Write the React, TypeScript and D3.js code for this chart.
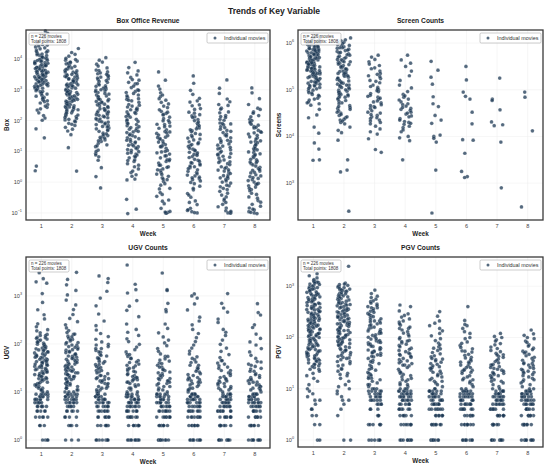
import React from "react";
import * as d3 from "d3";

const weeks = [1, 2, 3, 4, 5, 6, 7, 8];
const nMovies = 226;
const totalPoints = 1808;

// log10 of weekly box office revenue, one list per week
const boxLog10: number[][] = [
  [4.91,4.62,4.83,4.47,4.75,4.33,4.58,4.12,4.69,4.26,4.04,4.39,3.97,4.18,3.88,4.51,3.81,4.07,3.74,4.22,3.66,3.93,3.58,4.14,3.71,3.49,3.85,3.43,3.99,3.62,3.36,3.77,3.29,3.54,3.91,3.21,3.46,3.68,3.13,3.4,3.05,3.57,2.97,3.32,3.83,2.88,3.25,3.64,2.79,3.17,3.5,2.7,3.09,3.38,2.61,3.02,4.29,2.52,3.72,2.94,2.43,3.44,2.34,3.6,2.86,2.25,3.31,2.16,3.95,2.75,2.08,3.52,2.01,3.19,4.42,2.66,3.86,3.11,4.03,1.73,1.44,0.52,0.37,3.27,3.79,
   4.45,4.36,4.24,4.16,4.11,4.06,4.01,3.96,3.92,3.87,3.82,3.78,3.73,3.69,3.63,3.59,3.55,3.51,3.47,3.42,3.39,3.34,3.3,3.26,3.23,3.18,3.14,3.1,3.06,3.0,2.95,2.9,2.82,2.73,2.64,2.57,2.47,2.38,4.55,4.68],
  [4.34,4.21,3.96,4.09,3.71,3.88,3.52,3.79,3.44,3.63,3.31,3.57,3.18,3.49,3.06,3.38,2.94,3.27,2.83,3.14,2.71,3.02,2.6,2.91,2.48,2.79,2.37,2.66,2.25,2.54,2.13,2.42,2.02,2.31,1.91,2.19,1.78,2.07,1.66,1.54,3.93,3.68,3.41,3.22,2.98,2.87,2.74,2.58,3.84,3.55,3.33,3.11,2.89,2.69,2.46,2.28,3.74,3.47,3.24,3.09,2.96,2.77,2.52,2.35,4.02,3.61,3.36,3.16,2.85,2.63,2.44,2.16,1.96,1.84,1.12,0.36,3.29,2.55,3.45,2.92,
   3.98,3.86,3.76,3.66,3.58,3.5,3.42,3.35,3.28,3.2,3.13,3.05,2.99,2.93,2.86,2.8,2.72,2.67,2.61,2.56,2.5,2.43,2.38,2.32,2.24,2.18,2.1,2.04,1.98,1.88,3.9,3.15,2.62,4.15,1.72],
  [4.04,3.96,3.83,3.71,3.9,3.58,3.47,3.64,3.36,3.52,3.24,3.41,3.13,3.3,3.02,3.19,2.91,3.08,2.8,2.97,2.69,2.86,2.58,2.75,2.47,2.64,2.36,2.53,2.25,2.42,2.14,2.31,2.03,2.2,1.92,2.09,1.81,1.98,1.7,1.87,1.59,1.76,1.48,1.65,1.37,1.54,1.26,1.43,1.15,1.32,1.04,0.93,0.82,0.71,3.77,3.33,2.88,2.51,2.17,1.84,1.51,1.21,3.55,3.11,2.72,2.39,2.06,1.73,1.4,3.44,2.99,2.6,2.28,1.95,0.47,0.18,-0.19,2.68,
   3.5,3.38,3.27,3.16,3.05,2.94,2.83,2.78,2.7,2.62,2.55,2.45,2.38,2.33,2.26,2.19,2.12,2.05,1.96,1.89,1.79,1.68,1.57,1.45,1.34,1.18,1.0,0.88,3.62,3.0],
  [3.89,3.72,3.61,3.48,3.55,3.31,3.19,3.4,3.07,3.24,2.95,3.12,2.83,3.0,2.71,2.88,2.59,2.76,2.47,2.64,2.35,2.52,2.23,2.4,2.11,2.28,1.99,2.16,1.87,2.04,1.75,1.92,1.63,1.8,1.51,1.68,1.39,1.56,1.27,1.44,1.15,1.32,1.03,1.2,0.91,1.08,0.79,0.96,0.67,0.84,0.55,0.72,0.43,0.31,0.19,0.07,2.91,2.44,1.97,1.61,1.22,0.88,2.69,2.21,1.83,1.47,1.11,0.6,2.33,1.72,1.36,0.99,-0.56,-0.88,-1.02,
   2.98,2.8,2.66,2.5,2.37,2.26,2.13,2.02,1.9,1.77,1.65,1.53,1.41,1.3,1.18,1.06,0.94,0.82,0.7,0.5,0.36,0.24,0.1,3.2,3.33],
  [3.58,3.31,3.12,3.02,2.9,2.78,2.66,2.83,2.54,2.71,2.42,2.59,2.3,2.47,2.18,2.35,2.06,2.23,1.94,2.11,1.82,1.99,1.7,1.87,1.58,1.75,1.46,1.63,1.34,1.51,1.22,1.39,1.1,1.27,0.98,1.15,0.86,1.03,0.74,0.91,0.62,0.79,0.5,0.67,0.38,0.55,0.26,0.43,0.14,0.31,0.02,0.19,-0.1,-0.22,-0.34,-0.46,-0.58,-0.7,1.88,1.41,0.95,0.48,1.64,1.18,0.72,0.08,-0.98,-1.0,-1.01,-0.97,2.27,1.53,
   2.2,2.0,1.8,1.6,1.45,1.3,1.15,1.0,0.85,0.7,0.55,0.4,0.25,0.1,-0.05,-0.2,-0.4,-0.62,-0.85,-0.95],
  [3.45,3.21,2.98,2.85,2.64,2.72,2.51,2.6,2.39,2.48,2.27,2.36,2.15,2.24,2.03,2.12,1.91,2.0,1.79,1.88,1.67,1.76,1.55,1.64,1.43,1.52,1.31,1.4,1.19,1.28,1.07,1.16,0.95,1.04,0.83,0.92,0.71,0.8,0.59,0.68,0.47,0.56,0.35,0.44,0.23,0.32,0.11,0.2,-0.01,0.08,-0.13,-0.25,-0.37,-0.49,-0.61,-0.73,-0.85,1.7,1.25,0.9,0.5,1.47,1.02,0.62,-0.05,-0.96,-1.0,-0.99,-0.92,2.19,1.83,0.14,
   2.1,1.95,1.73,1.58,1.37,1.22,1.1,0.97,0.87,0.74,0.63,0.52,0.4,0.27,0.16,0.04,-0.2,-0.42,-0.66,-0.9],
  [3.32,3.05,2.88,2.7,2.52,2.61,2.4,2.49,2.28,2.37,2.16,2.25,2.04,2.13,1.92,2.01,1.8,1.89,1.68,1.77,1.56,1.65,1.44,1.53,1.32,1.41,1.2,1.29,1.08,1.17,0.96,1.05,0.84,0.93,0.72,0.81,0.6,0.69,0.48,0.57,0.36,0.45,0.24,0.33,0.12,0.21,0.0,0.09,-0.12,-0.03,-0.24,-0.15,-0.36,-0.48,-0.6,-0.72,-0.84,-0.93,-0.98,-1.0,-1.01,1.61,1.13,0.66,0.17,-0.42,1.86,1.36,0.88,0.39,-0.2,-0.66,
   2.1,1.9,1.72,1.5,1.34,1.24,1.1,1.0,0.9,0.78,0.64,0.5,0.4,0.28,0.14,0.04,-0.1,-0.3,-0.55,-0.8,-0.95],
  [3.06,2.9,2.71,2.52,2.4,2.28,2.36,2.16,2.24,2.04,2.12,1.92,2.0,1.8,1.88,1.68,1.76,1.56,1.64,1.44,1.52,1.32,1.4,1.2,1.28,1.08,1.16,0.96,1.04,0.84,0.92,0.72,0.8,0.6,0.68,0.48,0.56,0.36,0.44,0.24,0.32,0.12,0.2,0.0,0.08,-0.12,-0.04,-0.24,-0.16,-0.36,-0.28,-0.48,-0.6,-0.72,-0.84,-0.9,-0.96,-1.0,-1.02,1.6,1.1,0.63,0.15,-0.52,1.85,1.34,0.86,0.38,-0.08,-0.78,
   1.95,1.78,1.62,1.47,1.3,1.22,1.05,0.98,0.89,0.74,0.65,0.52,0.41,0.3,0.18,0.05,-0.06,-0.2,-0.4,-0.65,-0.88,-0.98],
];

// log10 of weekly screen counts
const screensLog10: number[][] = [
  [6.17,6.12,6.08,6.15,6.03,6.1,5.98,6.06,5.94,6.01,5.9,5.97,5.86,5.93,5.82,5.89,5.78,5.85,5.74,5.81,5.7,5.77,5.66,5.73,5.62,5.69,5.58,5.65,5.54,5.61,5.5,5.57,5.46,5.53,5.42,5.49,5.38,5.45,5.34,5.41,5.3,5.37,5.26,5.33,5.22,5.29,5.18,5.25,5.14,5.21,5.1,5.17,5.06,5.13,5.02,5.09,4.98,5.05,4.94,4.9,4.86,4.82,4.78,4.74,4.7,4.67,6.0,5.95,5.88,5.8,5.72,5.64,5.56,5.48,5.4,5.32,5.24,6.04,5.91,5.79,5.67,5.55,5.43,5.31,5.19,4.58,4.46,4.4,4.2,4.07,3.86,3.73,3.5,3.49,
   6.14,6.09,6.05,6.02,5.99,5.96,5.92,5.89,5.87,5.84,5.83,5.79,5.76,5.75,5.71,5.68,5.66,5.63,5.6,5.59,5.55,5.52,5.51,5.47,5.44,5.41,5.39,5.35,5.33,5.28,5.27,5.23,5.2,5.16,5.12,5.08,5.03,4.99,4.93,4.88,4.8,4.72,6.11,6.0,5.93,5.85,5.69,5.58,5.46,5.36],
  [6.11,6.02,5.97,6.05,5.92,5.99,5.87,5.94,5.82,5.89,5.77,5.84,5.72,5.79,5.67,5.74,5.62,5.69,5.57,5.64,5.52,5.59,5.47,5.54,5.42,5.49,5.37,5.44,5.32,5.39,5.27,5.34,5.22,5.29,5.17,5.24,5.12,5.19,5.07,5.14,5.02,5.09,4.97,5.04,4.92,4.99,4.87,4.94,4.82,4.89,4.77,4.84,4.72,4.66,4.6,4.55,4.5,4.45,4.4,4.35,4.3,4.27,5.9,5.6,5.35,5.1,4.9,4.62,4.2,4.13,4.08,3.92,3.5,3.28,3.24,2.4,
   6.07,6.0,5.95,5.9,5.85,5.8,5.75,5.7,5.65,5.6,5.55,5.5,5.45,5.4,5.35,5.3,5.25,5.2,5.15,5.1,5.05,5.0,4.95,4.9,4.85,4.8,4.75,4.7,4.64,4.58,4.52,4.47,4.42,4.37,4.33],
  [5.74,5.7,5.6,5.52,5.47,5.4,5.35,5.3,5.24,5.2,5.15,5.1,5.05,5.0,4.96,4.92,4.88,4.84,4.8,4.76,4.72,4.68,4.64,4.6,4.55,4.5,4.45,4.4,4.35,4.3,4.22,4.1,5.55,5.28,5.02,4.82,4.62,4.42,4.16,3.95,3.72,3.66,
   5.65,5.45,5.33,5.18,5.07,4.98,4.86,4.74,4.66,4.52,4.47,4.38,4.33,4.27,4.05],
  [5.74,5.64,5.57,5.3,5.2,5.04,4.96,4.9,4.84,4.74,4.7,4.65,4.6,4.56,4.52,4.48,4.44,4.38,4.32,4.26,4.19,4.1,4.0,3.91,3.5,5.1,4.78,4.58,4.42,4.3,4.22,3.97,
   5.5,5.4,4.87,4.8,4.68,4.62,4.5,4.35,4.28,4.14],
  [5.61,5.42,5.27,5.12,4.85,4.7,4.64,4.45,4.35,4.28,4.03,4.0,3.96,3.88,3.28,2.36],
  [5.5,5.21,4.95,4.86,4.8,4.52,4.27,3.93,3.92,3.64,3.25,3.14,3.12],
  [5.25,4.8,4.77,4.57,4.31,4.25,4.23,3.88,2.9],
  [4.95,4.84,4.12,2.49],
];

// number of movies with exactly 1..9 UGV in each week
const ugvLowCounts: number[][] = [
  [4,3,5,5,6,7,6,5,5],
  [3,4,4,5,5,6,6,5,5],
  [8,7,7,7,7,6,6,5,5],
  [9,8,8,8,7,7,6,6,5],
  [9,8,8,8,7,7,6,5,5],
  [9,8,8,8,7,7,6,6,5],
  [9,9,8,8,7,7,6,5,5],
  [9,8,8,8,7,7,6,5,5],
];
// UGV counts of 10 and above
const ugvHigh: number[][] = [
  [3050,2280,1960,1840,1120,730,515,405,332,262,228,198,187,171,158,149,137,131,126,117,111,104,99,95,91,87,82,79,75,71,68,65,62,59,57,55,53,51,49,47,45,43,42,40,39,37,36,35,34,32,31,30,29,28,27,26,25,24,23,22,21,20,19,18,17,16,15,14,13,12,11,11,10,10,
   150,135,120,108,98,89,81,74,68,62,57,52,48,44,41,38,35,33,30,28,26,24,22,21,19,18,16,15,14,13,12,11],
  [3100,2200,1700,1300,1050,820,650,520,410,340,290,250,215,190,172,158,145,133,124,115,107,100,94,88,83,78,74,70,66,62,59,56,53,50,48,46,44,42,40,38,36,34,33,31,30,29,28,27,25,24,23,22,21,20,19,18,17,16,15,14,13,12,11,10,10,
   160,140,122,107,95,85,76,68,61,55,50,45,41,38,35,32,29,27,25,23,21,19,18,16,15,14,13,12,11,10],
  [2600,2300,1900,1250,900,620,420,300,240,195,165,142,125,110,98,88,80,73,67,61,56,51,47,43,40,37,34,32,30,28,26,24,22,21,20,19,18,17,16,15,14,13,12,11,10,10,
   95,80,68,58,50,43,37,32,28,25,22,19,17,15,13,12,11],
  [4400,1750,1350,1150,800,610,500,370,260,200,175,150,128,112,98,86,76,68,61,55,50,45,41,38,35,32,30,28,26,24,22,21,20,19,18,17,16,15,14,13,12,11,10,10,
   60,50,42,36,31,27,23,20,18,16,14,12],
  [3000,1350,1300,700,520,470,260,210,170,140,120,105,92,80,70,62,55,49,44,40,36,33,30,28,26,24,22,20,19,18,17,16,15,14,13,12,11,10,
   55,46,39,33,29,25,22,19,17,15,13,11],
  [1100,1000,900,680,510,360,300,250,200,165,135,112,95,82,71,62,54,47,41,36,32,29,26,24,22,20,19,18,17,16,15,14,13,12,11,10,
   50,42,36,31,27,23,20,18,16,14,12,11],
  [1120,700,560,460,330,280,200,175,150,120,98,82,70,60,52,45,40,35,31,28,25,22,20,18,17,16,15,14,13,12,11,10,
   45,38,33,28,24,21,19,17,15,13,12,11],
  [690,450,400,250,220,160,130,110,95,80,68,58,50,43,38,34,30,27,24,22,20,18,17,16,15,14,13,12,11,10,
   42,36,31,27,23,20,18,16,14,13,12,11],
];

// number of movies with exactly 1..9 PGV in each week
const pgvLowCounts: number[][] = [
  [2,2,2,2,1,2,1,1,1],
  [2,0,1,1,1,2,1,1,1],
  [6,6,3,3,4,5,5,5,5],
  [8,7,6,6,6,6,6,6,6],
  [8,8,7,7,7,6,6,6,6],
  [8,8,7,7,7,7,6,6,6],
  [9,8,8,7,7,7,6,6,6],
  [9,8,8,7,7,7,6,6,6],
];
// PGV counts of 10 and above
const pgvHigh: number[][] = [
  [1750,1600,1450,1350,1250,1180,1100,1030,970,910,860,810,760,720,680,640,600,570,540,510,480,455,430,405,385,365,345,325,310,295,280,265,250,238,226,215,204,194,184,175,166,158,150,143,136,129,122,116,110,105,100,95,90,86,82,78,74,70,67,64,61,58,55,52,50,48,46,44,42,40,38,36,34,32,30,28,26,24,22,20,18,16,14,12,10,1200,900,700,560,440,350,280,220,175,140,112,90,72,58,46,37,30,
   1300,1220,1150,1080,1000,940,880,820,780,740,700,660,620,585,550,520,495,470,445,420,395,375,355,335,318,300,287,272,258,245,232,220,210,199,189,180,171,162,154,146,139,132,125,119,113,107,97,88,80,73,66,60,54,49,44,39,35,31,27,24],
  [2450,1150,1080,1000,940,880,830,780,730,690,650,610,575,540,510,480,450,425,400,378,356,335,316,298,281,265,250,236,222,209,197,186,175,165,155,146,138,130,122,115,108,102,96,90,85,80,75,70,66,62,58,54,50,46,43,40,37,34,31,28,25,22,20,18,16,14,12,11,10,850,620,460,340,250,185,137,101,75,56,41,
   1100,1040,970,910,850,800,750,710,670,630,590,555,525,495,465,440,415,390,367,345,325,307,290,273,258,243,229,216,204,192,181,170,160,150,141,133,125,118,111,104,98,92,86,81,76,71,64,57,51,45,39,34,29,24,19],
  [840,720,640,560,500,450,400,360,325,295,268,245,222,202,185,170,156,143,131,120,110,101,93,86,79,73,67,62,57,53,49,45,42,39,36,33,31,29,27,25,23,21,20,19,18,17,16,15,14,13,12,11,10,10,10,380,210,130,82,52,34,24,16,12,
   600,520,470,420,380,340,310,280,255,232,210,192,176,160,147,134,122,112,103,95,87,80,74,68,63,58,54,50,46,43],
  [430,400,330,270,230,200,175,150,130,115,100,88,78,70,62,56,50,45,41,37,34,31,28,26,24,22,20,19,18,17,16,15,14,13,12,11,10,10,10,150,85,48,29,21,15,12,
   290,250,210,185,160,140,122,107,94,83,74,66,59,53,47,43,39,35,32,29],
  [320,260,190,150,120,95,78,66,56,48,42,37,33,30,27,25,23,21,19,18,17,16,15,14,13,12,11,10,10,62,38,26,20,14,
   210,170,135,108,87,72,60,51,44,39,35,31,28,25,22],
  [400,215,170,130,100,82,70,60,52,45,40,35,31,28,26,24,22,20,18,17,16,15,14,13,12,11,10,10,55,33,23,15,
   180,150,120,95,77,64,54,47,41,37,33,29,26,23,21],
  [120,105,90,76,65,56,49,43,38,34,30,27,25,23,21,19,18,17,16,15,14,13,12,11,10,10,46,29,20,14,
   100,85,72,61,53,46,41,36,32,29,26,24,22,20,18],
  [140,118,100,85,72,62,54,47,41,36,32,29,26,24,22,20,18,17,16,15,14,13,12,11,10,10,52,31,21,15,
   110,95,80,68,58,50,44,39,35,31,28,25,23,21,19],
];

const boxTicks = [-1, 0, 1, 2, 3, 4];
const screensTicks = [3, 4, 5, 6];
const ugvTicks = [0, 1, 2, 3];
const pgvTicks = [0, 1, 2, 3];

type Pt = { week: number; value: number; jit: number };

function jitter(week: number, i: number): number {
  const s = Math.sin(week * 91.7 + i * 12.9898 + 3.1) * 43758.5453;
  return (s - Math.floor(s) - 0.5) * 0.44;
}

function fromLog(arr: number[][]): Pt[] {
  const out: Pt[] = [];
  arr.forEach((vals, wi) => {
    vals.forEach((v, i) => out.push({ week: weeks[wi], value: Math.pow(10, v), jit: jitter(weeks[wi], i) }));
  });
  return out;
}

function fromCounts(low: number[][], high: number[][]): Pt[] {
  const out: Pt[] = [];
  weeks.forEach((w, wi) => {
    let i = 0;
    low[wi].forEach((c, k) => {
      for (let j = 0; j < c; j++) out.push({ week: w, value: k + 1, jit: jitter(w, i++) });
    });
    high[wi].forEach((v) => out.push({ week: w, value: v, jit: jitter(w, i++) }));
  });
  return out;
}

const FONT = "'Liberation Sans', Arial, Helvetica, sans-serif";
const DOT = "#1b3753";

type PanelProps = {
  left: number; right: number; top: number; bottom: number;
  lo: number; hi: number; ticks: number[];
  title: string; yLabel: string; points: Pt[];
};

function Panel({ left, right, top, bottom, lo, hi, ticks, title, yLabel, points }: PanelProps) {
  const x = d3.scaleLinear().domain([0.5, 8.5]).range([left, right]);
  const y = d3.scaleLog().domain([Math.pow(10, lo), Math.pow(10, hi)]).range([bottom, top]);
  const cx = (left + right) / 2;
  const cy = (top + bottom) / 2;
  return (
    <g fontFamily={FONT}>
      <text x={cx} y={top - 7} textAnchor="middle" fontWeight="bold" fontSize={6.7} fill="#222">{title}</text>
      {weeks.map((w) => (
        <line key={"gx" + w} x1={x(w)} x2={x(w)} y1={top} y2={bottom} stroke="#ececec" strokeWidth={0.5} />
      ))}
      {ticks.map((t) => (
        <line key={"gy" + t} x1={left} x2={right} y1={y(Math.pow(10, t))} y2={y(Math.pow(10, t))} stroke="#ececec" strokeWidth={0.5} />
      ))}
      {points.map((p, i) => (
        <circle key={i} cx={x(p.week + p.jit)} cy={y(p.value)} r={1.85} fill={DOT} fillOpacity={0.75} stroke="#ffffff" strokeWidth={0.25} strokeOpacity={0.6} />
      ))}
      <rect x={left} y={top} width={right - left} height={bottom - top} fill="none" stroke="#3a3a3a" strokeWidth={1.3} />
      {ticks.map((t) => (
        <text key={"ty" + t} x={left - 4} y={y(Math.pow(10, t)) + 2} textAnchor="end" fontSize={5.6} fill="#444">
          10<tspan dy={-2.6} fontSize={3.8}>{t < 0 ? "\u2212" + Math.abs(t) : String(t)}</tspan>
        </text>
      ))}
      {weeks.map((w) => (
        <text key={"tx" + w} x={x(w)} y={bottom + 8} textAnchor="middle" fontSize={5.6} fill="#444">{w}</text>
      ))}
      <text x={cx} y={bottom + 16} textAnchor="middle" fontWeight="bold" fontSize={6.3} fill="#222">Week</text>
      <text transform={`translate(${left - 17},${cy}) rotate(-90)`} textAnchor="middle" fontWeight="bold" fontSize={6.3} fill="#222">{yLabel}</text>
      <g>
        <rect x={left + 3} y={top + 3} width={40} height={12} rx={1.5} fill="#ffffff" fillOpacity={0.85} stroke="#9a9a9a" strokeWidth={0.5} />
        <text x={left + 5} y={top + 8.2} fontSize={4.5} fill="#333">{`n = ${nMovies} movies`}</text>
        <text x={left + 5} y={top + 13.2} fontSize={4.5} fill="#333">{`Total points: ${totalPoints}`}</text>
      </g>
      <g>
        <rect x={right - 63} y={top + 3} width={61} height={10} rx={1.2} fill="#ffffff" fillOpacity={0.85} stroke="#9a9a9a" strokeWidth={0.5} />
        <circle cx={right - 55} cy={top + 8} r={1.5} fill={DOT} fillOpacity={0.75} />
        <text x={right - 46} y={top + 10} fontSize={5.4} fill="#333">Individual movies</text>
      </g>
    </g>
  );
}

export default function App() {
  const boxPts = fromLog(boxLog10);
  const screenPts = fromLog(screensLog10);
  const ugvPts = fromCounts(ugvLowCounts, ugvHigh);
  const pgvPts = fromCounts(pgvLowCounts, pgvHigh);
  return (
    <svg width={550} height={467} viewBox="0 0 550 467" style={{ position: "absolute", left: 0, top: 0, background: "#fff" }}>
      <rect x={0} y={0} width={550} height={467} fill="#ffffff" />
      <text x={274} y={14} textAnchor="middle" fontFamily={FONT} fontWeight="bold" fontSize={8.6} fill="#222">Trends of Key Variable</text>
      <Panel left={26} right={270} top={30} bottom={220} lo={-1.23} hi={4.94} ticks={boxTicks} title="Box Office Revenue" yLabel="Box" points={boxPts} />
      <Panel left={298} right={543} top={30} bottom={220} lo={2.21} hi={6.28} ticks={screensTicks} title="Screen Counts" yLabel="Screens" points={screenPts} />
      <Panel left={26} right={270} top={257} bottom={448} lo={-0.167} hi={3.81} ticks={ugvTicks} title="UGV Counts" yLabel="UGV" points={ugvPts} />
      <Panel left={298} right={543} top={257} bottom={447} lo={-0.136} hi={3.57} ticks={pgvTicks} title="PGV Counts" yLabel="PGV" points={pgvPts} />
    </svg>
  );
}
